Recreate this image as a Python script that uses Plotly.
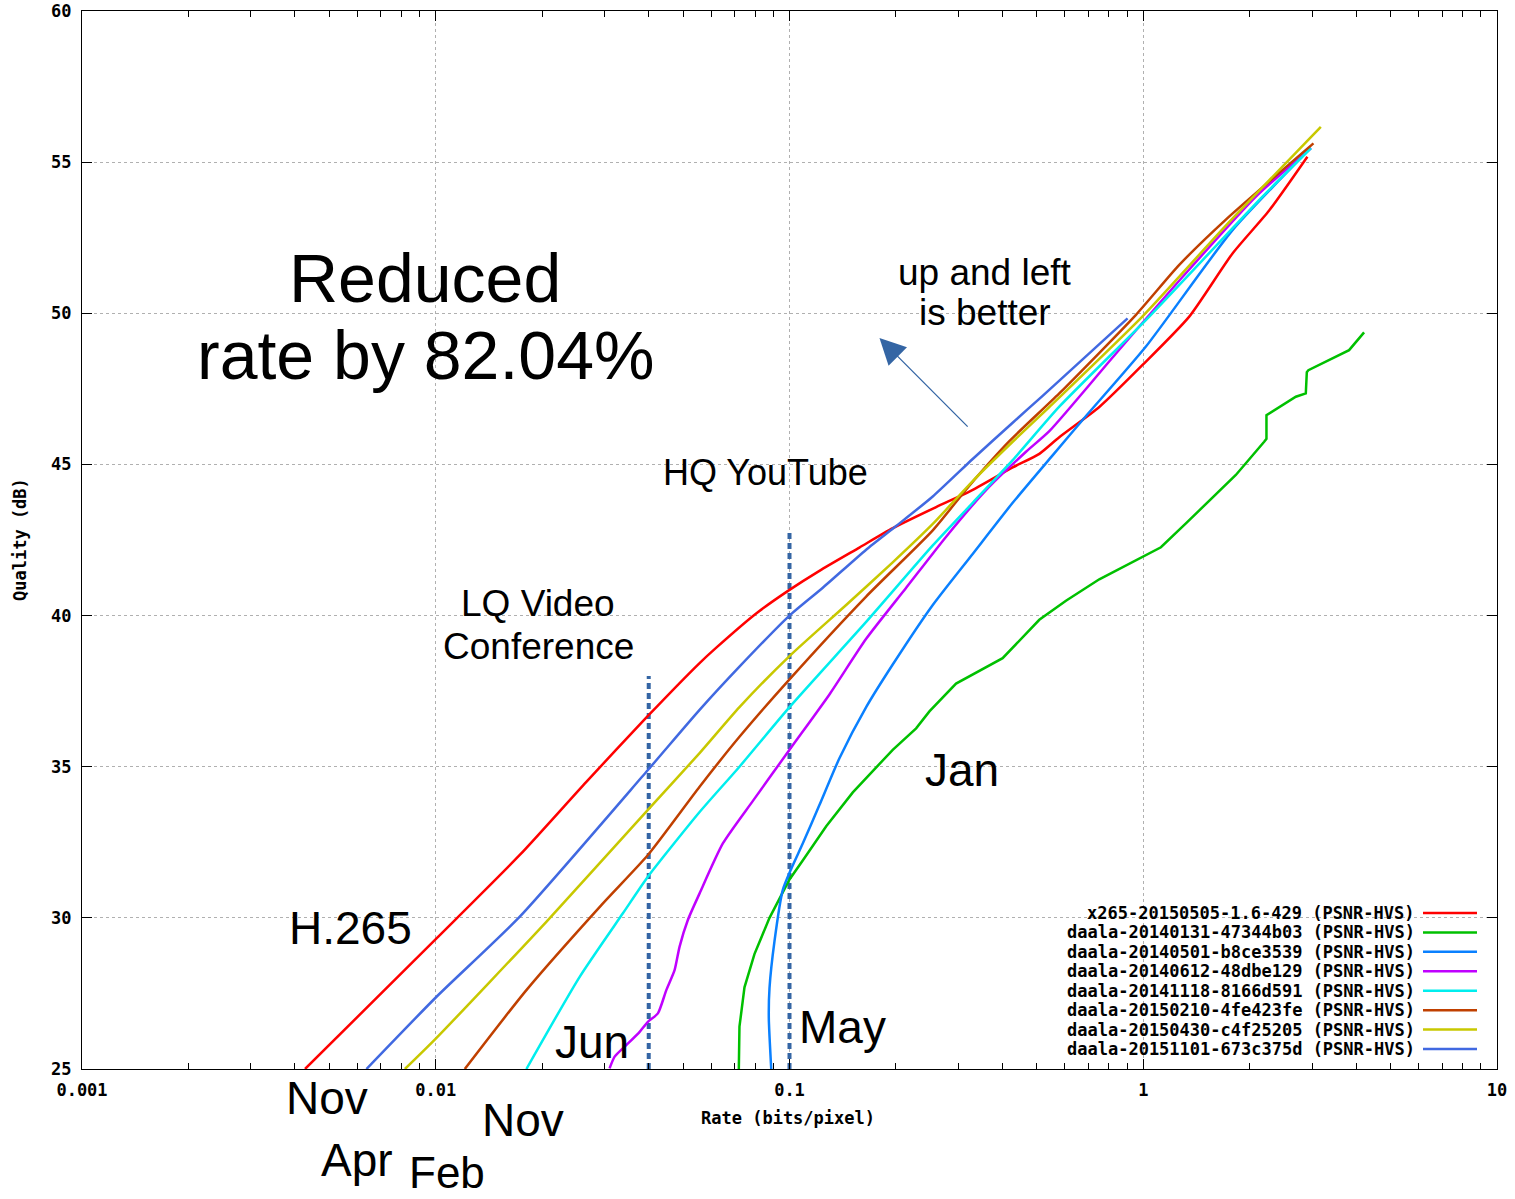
import math
import plotly.graph_objects as go

# ---------------- data (rate in bits/pixel, quality in dB) ----------------
names = [
    "x265-20150505-1.6-429 (PSNR-HVS)",
    "daala-20140131-47344b03 (PSNR-HVS)",
    "daala-20140501-b8ce3539 (PSNR-HVS)",
    "daala-20140612-48dbe129 (PSNR-HVS)",
    "daala-20141118-8166d591 (PSNR-HVS)",
    "daala-20150210-4fe423fe (PSNR-HVS)",
    "daala-20150430-c4f25205 (PSNR-HVS)",
    "daala-20151101-673c375d (PSNR-HVS)",
]
colors = ["#ff0000", "#00c000", "#0a80ff", "#c000ff", "#00eeee", "#c04000", "#c8c800", "#4169e1"]

x265_rate = [0.00427, 0.01005, 0.01728, 0.02665, 0.03978, 0.0557, 0.0621, 0.0805, 0.100, 0.1215,
             0.1576, 0.1958, 0.2597, 0.3225, 0.4274, 0.5084, 0.5789, 0.7512, 0.9954, 1.349,
             1.788, 2.269, 2.911]
x265_q = [25.0, 29.32, 32.08, 34.50, 36.68, 38.43, 38.94, 40.07, 40.85, 41.48,
          42.25, 42.89, 43.59, 44.1, 44.9, 45.35, 45.9, 46.9, 48.29, 49.89,
          51.98, 53.4, 55.18]

jan_rate = [0.0719, 0.0722, 0.0746, 0.0796, 0.0878, 0.100, 0.1090, 0.1270, 0.1510, 0.1958,
            0.2280, 0.2486, 0.2957, 0.4004, 0.5084, 0.6047, 0.7512, 0.9954, 1.122, 1.320,
            1.827, 2.197, 2.230, 2.230, 2.700, 2.881, 2.900, 2.930, 3.818, 4.210]
jan_q = [25.0, 26.4, 27.7, 28.8, 30.0, 31.27, 31.9, 33.03, 34.15, 35.56,
         36.27, 36.83, 37.75, 38.59, 39.86, 40.49, 41.2, 41.95, 42.26, 43.05,
         44.65, 45.75, 45.85, 46.63, 47.24, 47.35, 48.05, 48.12, 48.78, 49.37]

may_rate = [0.0888, 0.0874, 0.0878, 0.0907, 0.0957, 0.1011, 0.1090, 0.1215, 0.1384, 0.1647,
            0.1958, 0.2541, 0.3295, 0.4274, 0.5543, 0.6737, 1.0176, 1.788, 2.977]
may_q = [25.0, 26.69, 27.68, 29.23, 30.92, 31.62, 32.46, 33.73, 35.28, 36.97,
         38.38, 40.35, 42.04, 43.73, 45.3, 46.47, 48.9, 52.75, 55.47]

jun_rate = [0.0310, 0.03204, 0.03457, 0.03771, 0.03978, 0.04246, 0.04485, 0.04733, 0.0489, 0.0516,
            0.0557, 0.0648, 0.0788, 0.100, 0.1297, 0.1647, 0.2137, 0.2772, 0.3594, 0.4662,
            0.5426, 0.8374, 1.291, 2.082, 2.977]
jun_q = [25.02, 25.41, 25.79, 26.23, 26.56, 26.84, 27.61, 28.27, 29.05, 29.93,
         30.81, 32.46, 33.87, 35.56, 37.39, 39.23, 40.92, 42.61, 44.15, 45.42,
         46.1, 48.67, 51.2, 53.86, 55.46]

nov14_rate = [0.01804, 0.02552, 0.03381, 0.03978, 0.0557, 0.0722, 0.100, 0.1647, 0.2541, 0.3295,
              0.4274, 0.5789, 1.040, 2.173, 2.977]
nov14_q = [25.0, 28.05, 30.15, 31.36, 33.5, 35.0, 36.97, 39.79, 42.32, 43.73,
           45.14, 46.91, 49.89, 53.86, 55.46]

feb_rate = [0.01208, 0.01804, 0.02969, 0.03978, 0.0557, 0.0722, 0.100, 0.1647, 0.2541, 0.3225,
            0.4183, 0.5789, 0.9537, 1.264, 1.712, 3.028]
feb_q = [25.0, 27.61, 30.48, 32.08, 34.34, 35.99, 37.89, 40.63, 42.82, 44.3,
         45.77, 47.35, 49.95, 51.6, 53.1, 55.62]

apr_rate = [0.00818, 0.01005, 0.02054, 0.03978, 0.0557, 0.0722, 0.100, 0.1446, 0.1958, 0.2541,
            0.3295, 0.4274, 0.5426, 0.9954, 1.712, 3.177]
apr_q = [25.0, 26.03, 29.87, 33.57, 35.45, 36.97, 38.66, 40.35, 41.76, 43.03,
         44.45, 45.75, 46.9, 49.9, 52.9, 56.17]

nov15_rate = [0.00637, 0.01005, 0.01728, 0.03978, 0.0557, 0.0722, 0.100, 0.1242, 0.1647, 0.2001,
              0.2541, 0.3295, 0.4274, 0.5195, 0.9029]
nov15_q = [25.0, 27.39, 30.04, 34.89, 36.88, 38.31, 40.0, 40.92, 42.18, 42.96,
           43.94, 45.18, 46.38, 47.27, 49.83]

series_rate = [x265_rate, jan_rate, may_rate, jun_rate, nov14_rate, feb_rate, apr_rate, nov15_rate]
series_q = [x265_q, jan_q, may_q, jun_q, nov14_q, feb_q, apr_q, nov15_q]
series_shape = ["spline", "linear", "spline", "spline", "spline", "spline", "spline", "spline"]

x_tick_vals = [0.001, 0.01, 0.1, 1, 10]
x_tick_text = ["0.001", "0.01", "0.1", "1", "10"]
y_tick_vals = [25, 30, 35, 40, 45, 50, 55, 60]

marker_rates = [0.04, 0.1]          # LQ video conference, HQ YouTube
marker_tops = [38.0, 42.75]

# ---------------- figure ----------------
W, H = 1515, 1199
L, R, T, B = 82, 18, 11, 130
PW, PH = W - L - R, H - T - B


def px(x):
    return (x - L) / PW


def py(y):
    return (H - B - y) / PH


fig = go.Figure()

# reference markers (dashed verticals)
for rate, top in zip(marker_rates, marker_tops):
    fig.add_trace(go.Scatter(x=[rate, rate], y=[25, top], mode="lines", hoverinfo="skip",
                             line=dict(color="#3465a4", width=4, dash="6px,4px"),
                             showlegend=False))

for rate, q, name, col, shp in zip(series_rate, series_q, names, colors, series_shape):
    fig.add_trace(go.Scatter(x=rate, y=q, mode="lines", name=name,
                             line=dict(color=col, width=2.5, shape=shp, smoothing=0.6),
                             showlegend=False))

minor_vals = [m * 10 ** e for e in range(-3, 1) for m in range(2, 10)]
tickfont = dict(family="DejaVu Sans Mono", size=17, color="black", weight="bold")

fig.update_xaxes(type="log", range=[-3, 1], tickvals=x_tick_vals, ticktext=x_tick_text,
                 ticks="inside", ticklen=10, tickcolor="black", tickwidth=1,
                 showline=True, linecolor="black", linewidth=1, mirror="allticks",
                 showgrid=True, gridcolor="#b0b0b0", griddash="dot", gridwidth=1,
                 zeroline=False, tickfont=tickfont, ticklabelstandoff=6, automargin=False,
                 minor=dict(ticks="inside", ticklen=6, tickcolor="black", tickvals=minor_vals,
                            showgrid=False))
fig.update_yaxes(range=[25, 60], tickvals=y_tick_vals,
                 ticks="inside", ticklen=10, tickcolor="black", tickwidth=1,
                 showline=True, linecolor="black", linewidth=1, mirror="allticks",
                 showgrid=True, gridcolor="#b0b0b0", griddash="dot", gridwidth=1,
                 zeroline=False, tickfont=tickfont, ticklabelstandoff=6, automargin=False)

ann = []
big = dict(family="Liberation Sans", color="black")


def text(t, x, y, size):
    ann.append(dict(text=t, x=px(x), y=py(y), xref="paper", yref="paper", showarrow=False,
                    xanchor="center", yanchor="middle", font=dict(size=size, **big)))


text("Reduced", 425, 278, 68)
text("rate by 82.04%", 425, 355, 68)
text("up and left", 985, 272, 37)
text("is better", 985, 313, 37)
text("HQ YouTube", 765, 473, 36)
text("LQ Video", 538, 603, 37)
text("Conference", 538, 646, 37)
text("H.265", 350, 928, 46)
text("Jan", 962, 770, 46)
text("May", 842, 1027, 46)
text("Jun", 592, 1042, 46)
text("Nov", 327, 1098, 46)
text("Nov", 523, 1120, 46)
text("Apr", 357, 1160, 46)
text("Feb", 447, 1172, 44)

# arrow "up and left is better"
ann.append(dict(text="", x=math.log10(0.1796), y=49.18, xref="x", yref="y",
                ax=math.log10(0.322), ay=46.2, axref="x", ayref="y",
                showarrow=True, arrowhead=2, arrowsize=4, arrowwidth=1.3, arrowcolor="#3465a4"))

# axis titles
ann.append(dict(text="Rate (bits/pixel)", x=px(788), y=py(1118), xref="paper", yref="paper",
                xanchor="center", yanchor="middle", showarrow=False, font=tickfont))
ann.append(dict(text="Quality (dB)", x=px(20), y=py(540), xref="paper", yref="paper",
                xanchor="center", yanchor="middle", showarrow=False, textangle=-90,
                font=tickfont))

# legend in gnuplot style (text then line sample)
for i, (name, col) in enumerate(zip(names, colors)):
    yy = 913 + i * 19.43
    ann.append(dict(text=name, x=px(1417), y=py(yy), xref="paper", yref="paper",
                    showarrow=False, xanchor="right", yanchor="middle", font=tickfont))
    fig.add_shape(type="line", xref="paper", yref="paper", x0=px(1423), x1=px(1477),
                  y0=py(yy), y1=py(yy), line=dict(color=col, width=2.5))

fig.update_layout(width=W, height=H, margin=dict(l=L, r=R, t=T, b=B, autoexpand=False),
                  plot_bgcolor="white", paper_bgcolor="white", showlegend=False,
                  annotations=ann)

fig.write_html("out.html", config={"displayModeBar": False},
               post_script="document.body.style.margin='0';")
